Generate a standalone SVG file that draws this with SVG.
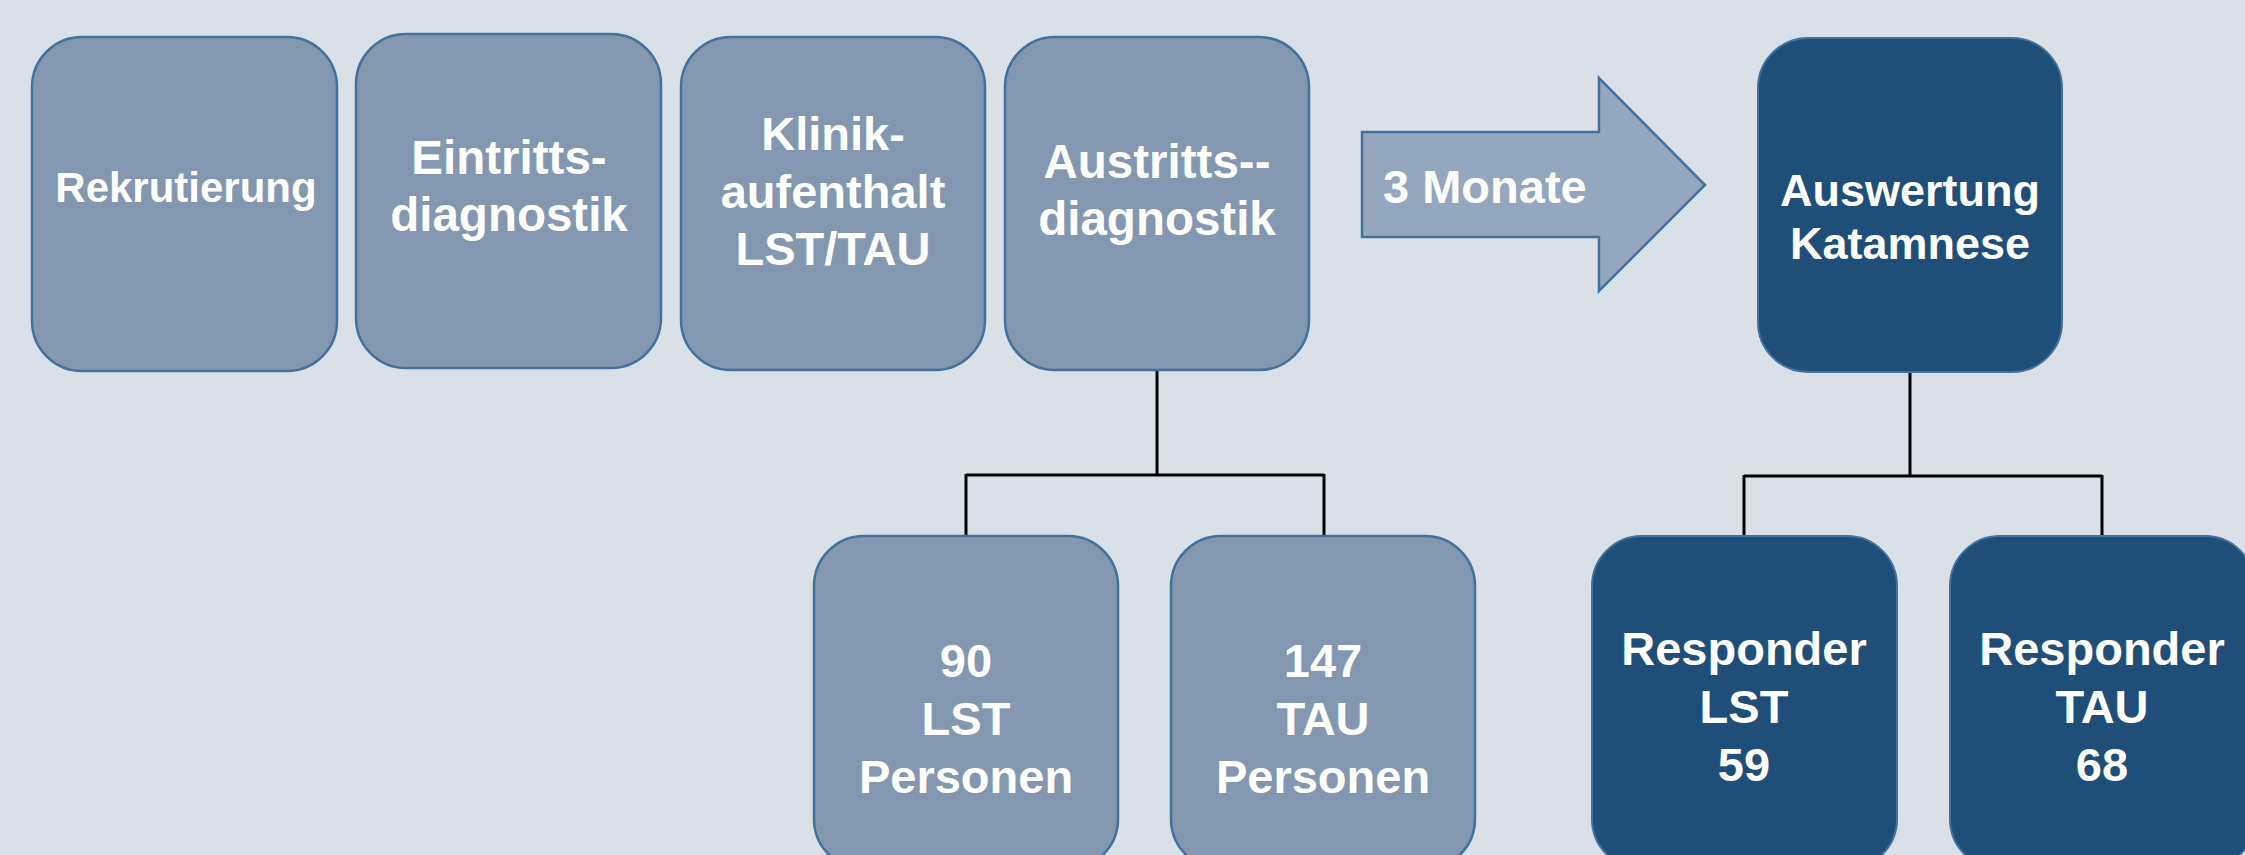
<svg xmlns="http://www.w3.org/2000/svg" width="2245" height="855" viewBox="0 0 2245 855">
<style>
.bg{fill:#D9E0E8}
.lt{fill:#8497B0;stroke:#41719C;stroke-width:2.5}
.dk{fill:#1F4E79;stroke:#41719C;stroke-width:2}
.arr{fill:#95A7BE;stroke:#41719C;stroke-width:2.5}
.conn{stroke:#000;stroke-width:3;fill:none}
text{font-family:"Liberation Sans",Arial,sans-serif;font-weight:bold;fill:#fff;text-anchor:middle;font-size:47px}
</style>
<rect class="bg" x="0" y="0" width="2245" height="855"/>
<g id="connectors">
<path class="conn" d="M1157 370V475M966 475H1324M966 474V536M1324 474V536"/>
<path class="conn" d="M1910 372V476M1744 476H2102M1744 475V536M2102 475V536"/>
</g>
<g id="rekrutierung">
<rect class="lt" x="32" y="37" width="305" height="334" rx="50" ry="50"/>
<text x="186" y="202" style="font-size:42px">Rekrutierung</text>
</g>
<g id="eintritt">
<rect class="lt" x="356" y="34" width="305" height="334" rx="50" ry="50"/>
<text x="509" y="174" style="font-size:47.5px">Eintritts-</text>
<text x="509" y="231" style="font-size:47.5px">diagnostik</text>
</g>
<g id="klinik">
<rect class="lt" x="681" y="37" width="304" height="333" rx="50" ry="50"/>
<text x="833" y="150">Klinik-</text>
<text x="833" y="208">aufenthalt</text>
<text x="833" y="265">LST/TAU</text>
</g>
<g id="austritt">
<rect class="lt" x="1005" y="37" width="304" height="333" rx="50" ry="50"/>
<text x="1157" y="178" style="font-size:47.5px">Austritts--</text>
<text x="1157" y="235" style="font-size:47.5px">diagnostik</text>
</g>
<g id="monate">
<polygon class="arr" points="1362,132 1599,132 1599,78 1705,185 1599,291 1599,237 1362,237"/>
<text x="1383" y="203" style="text-anchor:start">3 Monate</text>
</g>
<g id="auswertung">
<rect class="dk" x="1758" y="38" width="304" height="334" rx="50" ry="50"/>
<text x="1910" y="206" style="font-size:45px">Auswertung</text>
<text x="1910" y="259" style="font-size:45px">Katamnese</text>
</g>
<g id="lst">
<rect class="lt" x="814" y="536" width="304" height="333" rx="50" ry="50"/>
<text x="966" y="677">90</text>
<text x="966" y="735">LST</text>
<text x="966" y="793">Personen</text>
</g>
<g id="tau">
<rect class="lt" x="1171" y="536" width="304" height="333" rx="50" ry="50"/>
<text x="1323" y="677">147</text>
<text x="1323" y="735">TAU</text>
<text x="1323" y="793">Personen</text>
</g>
<g id="resp-lst">
<rect class="dk" x="1592" y="536" width="305" height="333" rx="50" ry="50"/>
<text x="1744" y="665">Responder</text>
<text x="1744" y="723">LST</text>
<text x="1744" y="781">59</text>
</g>
<g id="resp-tau">
<rect class="dk" x="1950" y="536" width="305" height="333" rx="50" ry="50"/>
<text x="2102" y="665">Responder</text>
<text x="2102" y="723">TAU</text>
<text x="2102" y="781">68</text>
</g>
</svg>
